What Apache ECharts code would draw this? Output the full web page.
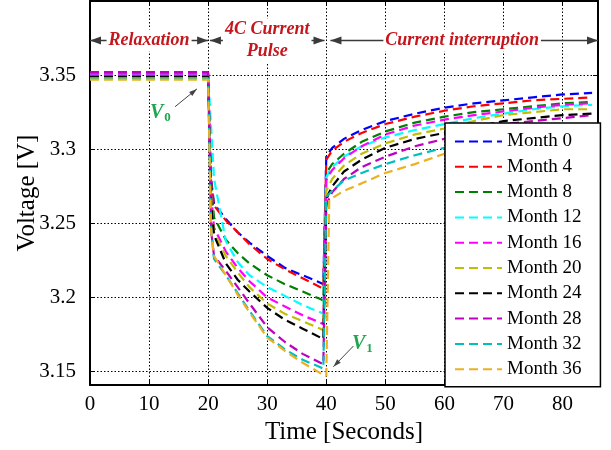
<!DOCTYPE html>
<html><head><meta charset="utf-8">
<script src="https://cdn.jsdelivr.net/npm/echarts@6/dist/echarts.min.js"></script>
<style>html,body{margin:0;padding:0;background:#fff}#c{width:611px;height:450px}</style>
</head><body><div id="c"></div><script>
// ---- data ----
const times = [0,20,20.5,21,23,25,27,30,33,36,39,39.5,40,40.5,41,43,46,50,55,60,65,70,75,80,85];
const month0  = [3.350,3.350,3.280,3.263,3.253,3.244,3.237,3.228,3.220,3.215,3.210,3.209,3.295,3.298,3.301,3.307,3.313,3.319,3.324,3.328,3.331,3.333,3.335,3.337,3.338];
const month4  = [3.351,3.351,3.278,3.262,3.252,3.244,3.236,3.226,3.219,3.213,3.207,3.206,3.293,3.296,3.299,3.305,3.311,3.317,3.322,3.326,3.329,3.331,3.333,3.334,3.335];
const month8  = [3.349,3.349,3.275,3.254,3.239,3.230,3.223,3.215,3.209,3.204,3.199,3.198,3.284,3.287,3.290,3.297,3.305,3.312,3.318,3.322,3.325,3.327,3.329,3.331,3.332];
const month12 = [3.350,3.350,3.315,3.280,3.238,3.224,3.215,3.207,3.201,3.195,3.190,3.189,3.281,3.285,3.288,3.295,3.302,3.308,3.313,3.317,3.321,3.324,3.327,3.329,3.330];
const month16 = [3.351,3.351,3.270,3.247,3.231,3.220,3.211,3.200,3.194,3.188,3.183,3.182,3.279,3.283,3.286,3.294,3.302,3.310,3.316,3.320,3.323,3.3255,3.328,3.330,3.331];
const month20 = [3.349,3.349,3.268,3.244,3.228,3.217,3.207,3.196,3.189,3.184,3.179,3.178,3.272,3.276,3.280,3.289,3.297,3.304,3.310,3.314,3.319,3.323,3.325,3.327,3.327];
const month24 = [3.349,3.349,3.265,3.242,3.223,3.212,3.204,3.193,3.185,3.179,3.173,3.172,3.266,3.271,3.275,3.285,3.293,3.301,3.307,3.311,3.315,3.319,3.321,3.323,3.324];
const month28 = [3.352,3.352,3.245,3.228,3.218,3.207,3.196,3.180,3.170,3.162,3.156,3.155,3.262,3.267,3.271,3.280,3.288,3.295,3.302,3.307,3.312,3.317,3.319,3.321,3.323];
const month32 = [3.348,3.348,3.245,3.226,3.215,3.203,3.191,3.174,3.165,3.158,3.153,3.152,3.268,3.270,3.272,3.279,3.284,3.290,3.296,3.301,3.305,3.309,3.312,3.314,3.316];
const month36 = [3.347,3.347,3.245,3.228,3.215,3.202,3.190,3.173,3.164,3.156,3.149,3.148,3.147,3.266,3.267,3.272,3.277,3.284,3.290,3.297,3.301,3.304,3.307,3.309,3.311];
const seriesNames = ['Month 0','Month 4','Month 8','Month 12','Month 16','Month 20','Month 24','Month 28','Month 32','Month 36'];
const seriesValues = [month0,month4,month8,month12,month16,month20,month24,month28,month32,month36];
const xTicks = [0,10,20,30,40,50,60,70,80];
const yTicks = [3.15,3.2,3.25,3.3,3.35];

// ---- styles ----
const colors = ['#0000ff','#ff0000','#008000','#00ffff','#ff00ff','#bfbf00','#000000','#bf00bf','#00bfbf','#edb120'];
const FONT = 'Liberation Serif';
const chart = echarts.init(document.getElementById('c'), null, {renderer:'canvas'});

const axisCommon = {
  axisLine:{show:true, onZero:false, lineStyle:{color:'#000', width:2}},
  axisTick:{show:true, inside:true, length:5, lineStyle:{color:'#000', width:1}},
};
const option = {
  animation:false,
  backgroundColor:'#fff',
  grid:{left:90, right:13, top:1, bottom:62, containLabel:false},
  xAxis:[
    Object.assign({}, axisCommon, {type:'value', min:0, max:86, position:'bottom',
      name:'Time [Seconds]', nameLocation:'middle', nameGap:35, nameMoveOverlap:false,
      nameTextStyle:{fontFamily:FONT, fontSize:25, color:'#000'},
      axisTick:Object.assign({}, axisCommon.axisTick, {customValues:xTicks}),
      axisLabel:{customValues:xTicks, fontFamily:FONT, fontSize:21, color:'#000', margin:9},
      splitLine:{show:true, lineStyle:{color:'#000', type:[1.5,2], width:1}}}),
    Object.assign({}, axisCommon, {type:'value', min:0, max:86, position:'top',
      axisTick:Object.assign({}, axisCommon.axisTick, {customValues:xTicks}),
      axisLabel:{show:false}, splitLine:{show:false}})
  ],
  yAxis:[
    Object.assign({}, axisCommon, {type:'value', min:3.141, max:3.4, position:'left',
      name:'Voltage [V]', nameLocation:'middle', nameGap:50, nameMoveOverlap:false,
      nameTextStyle:{fontFamily:FONT, fontSize:25, color:'#000'},
      axisTick:Object.assign({}, axisCommon.axisTick, {customValues:yTicks}),
      axisLabel:{customValues:yTicks, fontFamily:FONT, fontSize:21, color:'#000', margin:14,
        formatter:v=>String(+v.toFixed(2))},
      splitLine:{show:true, lineStyle:{color:'#000', type:[1.5,2], width:1}}}),
    Object.assign({}, axisCommon, {type:'value', min:3.141, max:3.4, position:'right',
      axisTick:Object.assign({}, axisCommon.axisTick, {customValues:yTicks}),
      axisLabel:{show:false}, splitLine:{show:false}})
  ],
  legend:{
    orient:'vertical', left:445, top:123, itemWidth:47, itemHeight:14, itemGap:6.3,
    padding:[9,19,8,9], borderColor:'#000', borderWidth:1.5, backgroundColor:'#fff',
    textStyle:{fontFamily:FONT, fontSize:19, color:'#000'},
    itemStyle:{color:'rgba(0,0,0,0)', opacity:0, borderWidth:0},
    data:seriesNames, selectedMode:false
  },
  series: seriesNames.map((n,i)=>({
    name:n, type:'line', xAxisIndex:0, yAxisIndex:0,
    data: times.map((t,k)=>[t, seriesValues[i][k]]),
    symbol:'none', showSymbol:false, smooth:false,
    lineStyle:{color:colors[i], width:2.2, type:[9,5]},
    itemStyle:{color:colors[i]},
    emphasis:{disabled:true}
  }))
};
chart.setOption(option);

// ---- annotations (data coordinates) ----
const AY = 3.3733;
const regions = [
  {x0:0, x1:20, cx:10, text:'Relaxation'},
  {x0:20.3, x1:39.7, cx:30, text:'4C Current\nPulse'},
  {x0:40.7, x1:86, cx:63, text:'Current interruption'}
];
function px(p){ return chart.convertToPixel({gridIndex:0}, p); }
function head(tip, from, L, W, color){
  const dx=tip[0]-from[0], dy=tip[1]-from[1], len=Math.hypot(dx,dy);
  const ux=dx/len, uy=dy/len, bx=tip[0]-ux*L, by=tip[1]-uy*L;
  return {type:'polygon', shape:{points:[tip,[bx-uy*W/2,by+ux*W/2],[bx+uy*W/2,by-ux*W/2]]},
          style:{fill:color}, z:100};
}
const g = [];
const AC = '#3a3a3a';
regions.forEach(r=>{
  const a = px([r.x0, AY]), b = px([r.x1, AY]), c = px([r.cx, AY]);
  g.push({type:'line', shape:{x1:a[0], y1:a[1], x2:b[0], y2:b[1]}, style:{stroke:AC, lineWidth:1.5}, z:100});
  g.push(head(a, b, 11, 8, AC));
  g.push(head(b, a, 11, 8, AC));
  g.push({type:'text', x:c[0], y:c[1], z:101, style:{text:r.text, fill:'#c4161c',
    font:'italic bold 18px "Liberation Serif"', align:'center', verticalAlign:'middle',
    lineHeight:22, backgroundColor:'#fff', padding:[0,2]}});
});
// V0 and V1 labels with arrows
const labels = [
  {tx:12.4, ty:3.3247, sub:'0', from:[14.4,3.3287], to:[18.1,3.3407]},
  {tx:46.6, ty:3.1687, sub:'1', from:[44.6,3.1673], to:[41.2,3.1533]}
];
labels.forEach(l=>{
  const t = px([l.tx, l.ty]);
  g.push({type:'text', x:t[0], y:t[1], z:101, style:{text:'V', fill:'#1fa64f',
    font:'italic bold 20px "Liberation Serif"', align:'right', verticalAlign:'middle'}});
  g.push({type:'text', x:t[0]+1, y:t[1]+5, z:101, style:{text:l.sub, fill:'#1fa64f',
    font:'bold 13px "Liberation Serif"', align:'left', verticalAlign:'middle'}});
  const a = px(l.from), b = px(l.to);
  g.push({type:'line', shape:{x1:a[0], y1:a[1], x2:b[0], y2:b[1]}, style:{stroke:'#444', lineWidth:1}, z:100});
  g.push(head(b, a, 8, 5, '#444'));
});
chart.setOption({graphic:g});
</script></body></html>
